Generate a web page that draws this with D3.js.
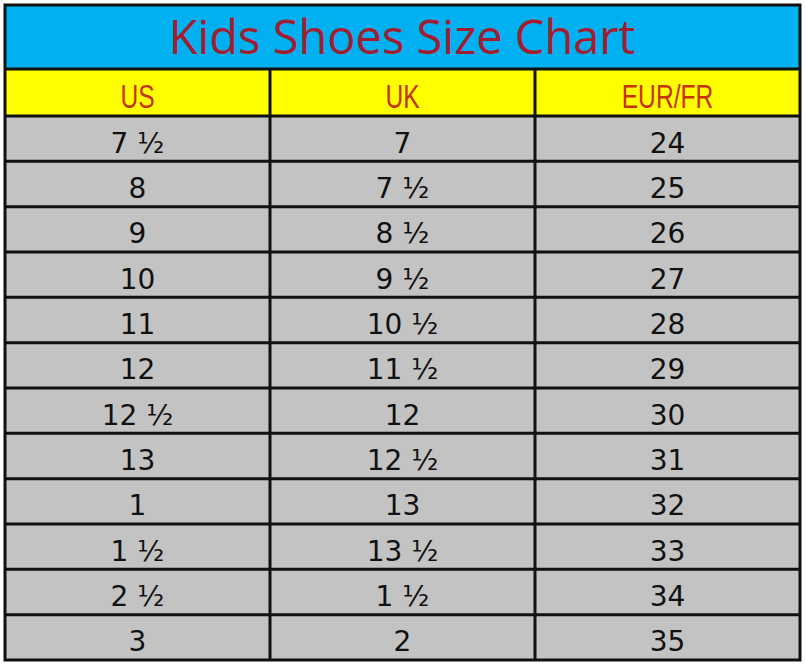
<!DOCTYPE html><html><head><script src="https://d3js.org/d3.v7.min.js"></script>
<style>body{margin:0;background:#fff}</style></head><body><svg width="805" height="667"></svg>
<script>
const title = "Kids Shoes Size Chart";
const headers = ["US","UK","EUR/FR"];
const us = ["7 ½","8","9","10","11","12","12 ½","13","1","1 ½","2 ½","3"];
const uk = ["7","7 ½","8 ½","9 ½","10 ½","11 ½","12","12 ½","13","13 ½","1 ½","2"];
const eur = ["24","25","26","27","28","29","30","31","32","33","34","35"];
const svg = d3.select("svg");
const x = d3.scaleBand().domain(headers).range([5,800]);
const y = d3.scaleBand().domain(d3.range(12)).range([116,660]);
const cols = [us,uk,eur];
svg.append("rect").attr("x",5).attr("y",5).attr("width",795).attr("height",64).attr("fill","#00B0F0");
svg.append("rect").attr("x",5).attr("y",69).attr("width",795).attr("height",47).attr("fill","#FFFF00");
svg.append("rect").attr("x",5).attr("y",116).attr("width",795).attr("height",544).attr("fill","#C3C3C3");
svg.append("text").attr("x",402).attr("y",54).attr("text-anchor","middle").attr("font-family","Open Sans, DejaVu Sans, sans-serif").attr("font-size",47).attr("fill","#A31D2F").text(title);
headers.forEach(h=>svg.append("text").attr("transform",`translate(${x(h)+x.bandwidth()/2},108) scale(0.85,1.15)`).attr("text-anchor","middle").attr("font-family","Liberation Sans, sans-serif").attr("font-size",29).attr("fill","#C8320A").text(h));
cols.forEach((c,ci)=>c.forEach((v,i)=>svg.append("text").attr("x",x(headers[ci])+x.bandwidth()/2).attr("y",y(i)+y.bandwidth()/2+14).attr("text-anchor","middle").attr("font-family","DejaVu Sans, sans-serif").attr("font-size",28).attr("fill","#111").text(v)));
const g=svg.append("g").attr("stroke","#111").attr("stroke-width",3);
[69,116].forEach(yy=>g.append("line").attr("x1",5).attr("x2",800).attr("y1",yy).attr("y2",yy));
d3.range(1,12).forEach(i=>g.append("line").attr("x1",5).attr("x2",800).attr("y1",y(i)).attr("y2",y(i)));
headers.slice(1).forEach(h=>g.append("line").attr("x1",x(h)).attr("x2",x(h)).attr("y1",69).attr("y2",660));
g.append("rect").attr("x",5).attr("y",5).attr("width",795).attr("height",655).attr("fill","none");
</script></body></html>
